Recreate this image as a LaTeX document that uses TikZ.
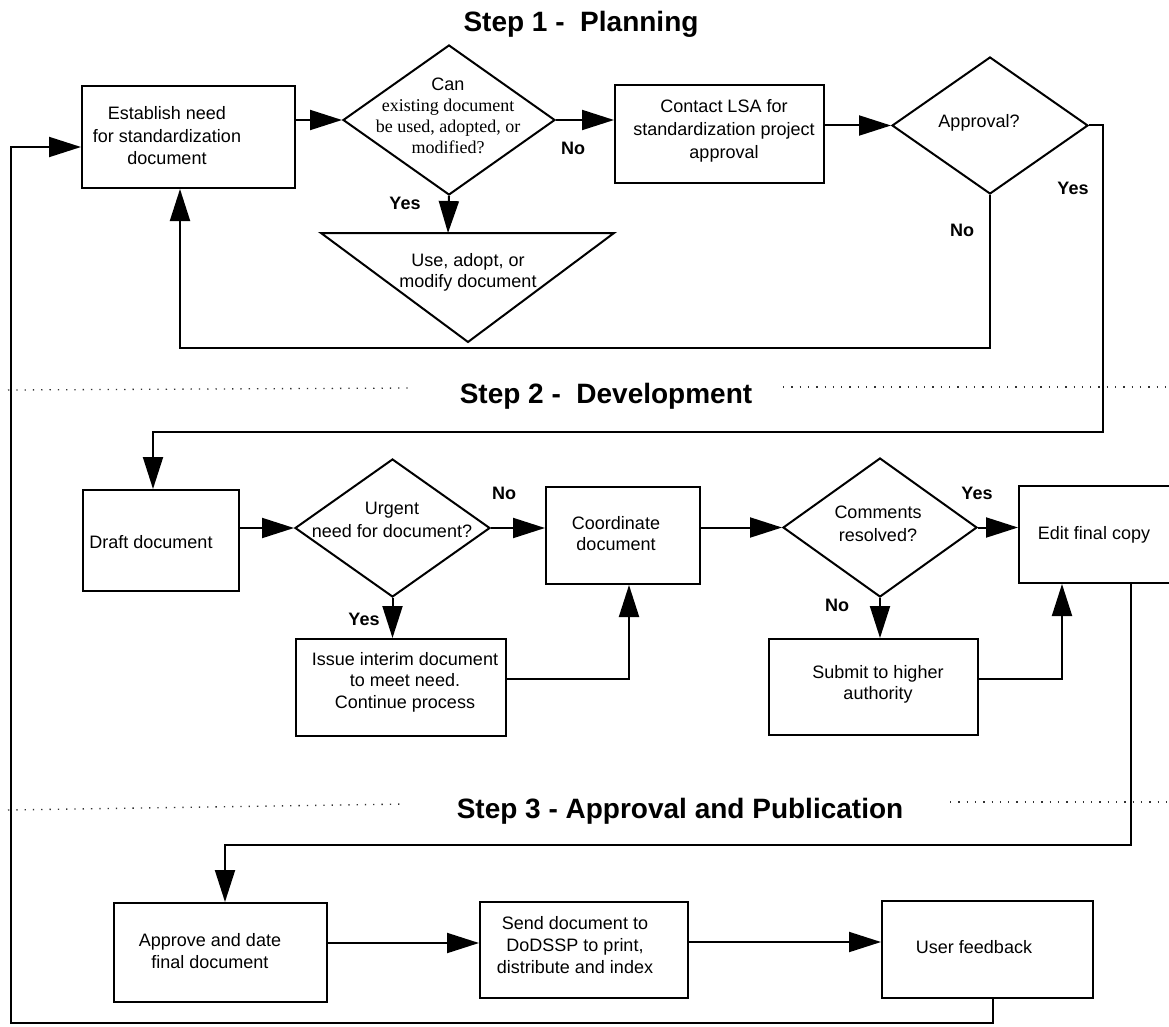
\documentclass[tikz,border=0pt]{standalone}
\usepackage{fontspec}
\setmainfont{Liberation Sans}
\newfontfamily\tms{Liberation Serif}
\usetikzlibrary{shapes.geometric,arrows.meta}
\begin{document}
\begin{tikzpicture}[x=1pt,y=-1pt,
  box/.style={draw,line width=2pt,rectangle,inner sep=0pt},
  dia/.style={draw,line width=2pt,diamond,inner sep=0pt},
  txt/.style={font=\fontsize{18}{22.5}\selectfont,align=center,inner sep=0pt},
  lab/.style={font=\bfseries\fontsize{18}{22}\selectfont,inner sep=0pt},
  ttl/.style={font=\bfseries\fontsize{28}{32}\selectfont,inner sep=0pt,anchor=base},
  conn/.style={line width=2pt},
  arr/.style={line width=2pt,line join=miter,-{Triangle[length=32pt,width=20pt]}},
  dots/.style={line width=1.3pt,dash pattern=on 1.3pt off 7pt,black!80}]
\clip (0,0) rectangle (1169,1027);
\fill[white] (0,0) rectangle (1169,1027);

% titles
\node[ttl] (t1) at (581,32) {Step 1 -\ \ Planning};
\node[ttl] (t2) at (606,403) {Step 2 -\ \ Development};
\node[ttl] (t3) at (680,818) {Step 3 - Approval and Publication};

% dotted separators
\draw[dots] (8,390) -- (413,388);
\draw[dots] (783,387) -- (1169,387);
\draw[dots] (8,810) -- (406,804);
\draw[dots] (950,802) -- (1169,802);

% ---------- Step 1 ----------
\node[box,minimum width=213,minimum height=102] (est) at (188.5,137) {};
\node[txt] (estt) at (167,136) {Establish need\\for standardization\\document};

\node[dia,minimum width=212,minimum height=150] (d1) at (449,120) {};
\node[txt,font=\fontsize{18}{21}\selectfont] (d1t) at (448,116) {Can\\{\tms existing document}\\{\tms be used, adopted, or}\\{\tms modified?}};

\draw[line width=2pt,line join=miter] (321,233) -- (614,233) -- (468,342) -- cycle;
\coordinate (tri) at (448,233);
\node[txt,font=\fontsize{18}{21}\selectfont] (trit) at (468,272) {Use, adopt, or\\modify document};

\node[box,minimum width=209,minimum height=98] (con) at (719.5,134) {};
\node[txt,font=\fontsize{18}{23}\selectfont] (cont) at (724,131) {Contact LSA for\\standardization project\\approval};

\node[dia,minimum width=196,minimum height=137] (d2) at (990,125.5) {};
\node[txt] (d2t) at (979,123) {Approval?};

\node[lab] (no1) at (573,148) {No};
\node[lab] (yes1) at (405,203) {Yes};
\node[lab] (no2) at (962,230) {No};
\node[lab] (yes2) at (1073,188) {Yes};

\draw[arr] (est.east |- d1.west) -- (d1.west);
\draw[arr] (d1.east) -- (d1.east -| con.west);
\draw[arr] (d1.south) -- (tri);
\draw[arr] (con.east |- d2.west) -- (d2.west);
\draw[arr] (d2.south) -- (d2.south |- 0,348) -- (180,348) -- (180,0 |- est.south);

% ---------- Step 2 ----------
\node[box,minimum width=156,minimum height=101] (dra) at (161,540.5) {};
\node[txt] (drat) at (151,542) {Draft document};

\node[dia,minimum width=195,minimum height=138] (d3) at (392.5,528) {};
\node[txt,font=\fontsize{18}{23}\selectfont] (d3t) at (392,520) {Urgent\\need for document?};

\node[box,minimum width=154,minimum height=97] (coo) at (623,535.5) {};
\node[txt,font=\fontsize{18}{21}\selectfont] (coot) at (616,534) {Coordinate\\document};

\node[box,minimum width=210,minimum height=97] (iss) at (401,687.5) {};
\node[txt,font=\fontsize{18}{21.5}\selectfont] (isst) at (405,682) {Issue interim document\\to meet need.\\Continue process};

\node[dia,minimum width=194,minimum height=139] (d4) at (880,527.5) {};
\node[txt,font=\fontsize{18}{23}\selectfont] (d4t) at (878,524) {Comments\\resolved?};

\node[box,minimum width=166,minimum height=97] (edi) at (1102,534.5) {};
\node[txt] (edit) at (1094,535) {Edit final copy};

\node[box,minimum width=209,minimum height=96] (sub) at (873.5,687) {};
\node[txt,font=\fontsize{18}{21}\selectfont] (subt) at (878,684) {Submit to higher\\authority};

\node[lab] (no3) at (504,493) {No};
\node[lab] (yes3) at (364,619) {Yes};
\node[lab] (yes4) at (977,493) {Yes};
\node[lab] (no4) at (837,605) {No};

\draw[arr] (d2.east) -- (1103,0 |- d2.east) -- (1103,432) -- (153,432) -- (153,0 |- dra.north);
\draw[arr] (dra.east |- d3.west) -- (d3.west);
\draw[arr] (d3.east) -- (d3.east -| coo.west);
\draw[arr] (d3.south) -- (d3.south |- iss.north);
\draw[arr] (iss.east |- 0,679) -- (629,679) -- (629,0 |- coo.south);
\draw[arr] (coo.east |- d4.west) -- (d4.west);
\draw[arr] (d4.east) -- (d4.east -| edi.west);
\draw[arr] (d4.south) -- (d4.south |- sub.north);
\draw[arr] (sub.east |- 0,679) -- (1062,679) -- (1062,0 |- edi.south);

% ---------- Step 3 ----------
\node[box,minimum width=213,minimum height=99] (app) at (220.5,952.5) {};
\node[txt,font=\fontsize{18}{22}\selectfont] (appt) at (210,951) {Approve and date\\final document};

\node[box,minimum width=208,minimum height=96] (sen) at (584,950) {};
\node[txt,font=\fontsize{18}{22}\selectfont] (sent) at (575,945) {Send document to\\DoDSSP to print,\\distribute and index};

\node[box,minimum width=211,minimum height=97] (usr) at (987.5,949.5) {};
\node[txt] (usrt) at (974,947) {User feedback};

\draw[arr] (1131,0 |- edi.south) -- (1131,845) -- (225,845) -- (225,0 |- app.north);
\draw[arr] (app.east |- 0,943) -- (sen.west |- 0,943);
\draw[arr] (sen.east |- 0,942) -- (usr.west |- 0,942);
\draw[arr] (993,0 |- usr.south) -- (993,1023) -- (11,1023) -- (11,147) -- (est.west |- 0,147);
\end{tikzpicture}
\end{document}
